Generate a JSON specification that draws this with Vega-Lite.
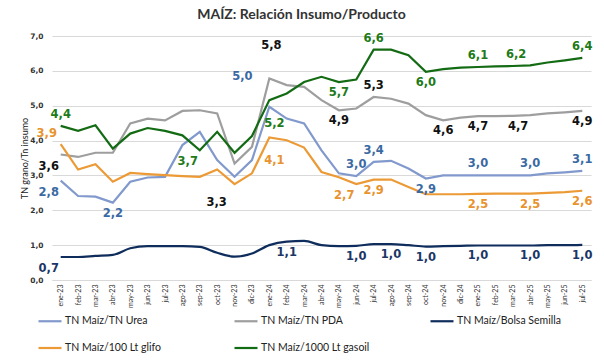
{
  "$schema": "https://vega.github.io/schema/vega-lite/v6.json",
  "width": 539,
  "height": 244,
  "autosize": {"type": "none"},
  "padding": {"left": 52, "top": 36, "right": 13, "bottom": 82},
  "background": "white",
  "title": {"text": "MAÍZ: Relación Insumo/Producto", "font": "Lato", "fontSize": 14, "fontWeight": "bold", "color": "#333333", "anchor": "middle", "offset": 10, "dx": -20},
  "config": {"view": {"stroke": null}},
  "datasets": {
    "series": [
      {"mes": "ene-23", "urea": 2.85, "pda": 3.6, "semilla": 0.66, "glifo": 3.9, "gasoil": 4.42},
      {"mes": "feb-23", "urea": 2.41, "pda": 3.53, "semilla": 0.66, "glifo": 3.17, "gasoil": 4.28},
      {"mes": "mar-23", "urea": 2.39, "pda": 3.65, "semilla": 0.69, "glifo": 3.32, "gasoil": 4.44},
      {"mes": "abr-23", "urea": 2.22, "pda": 3.65, "semilla": 0.72, "glifo": 2.82, "gasoil": 3.77},
      {"mes": "may-23", "urea": 2.82, "pda": 4.49, "semilla": 0.91, "glifo": 3.07, "gasoil": 4.2},
      {"mes": "jun-23", "urea": 2.94, "pda": 4.63, "semilla": 0.97, "glifo": 3.04, "gasoil": 4.36},
      {"mes": "jul-23", "urea": 2.96, "pda": 4.58, "semilla": 0.97, "glifo": 3.01, "gasoil": 4.28},
      {"mes": "ago-23", "urea": 3.87, "pda": 4.85, "semilla": 0.97, "glifo": 2.98, "gasoil": 4.15},
      {"mes": "sep-23", "urea": 4.25, "pda": 4.87, "semilla": 0.95, "glifo": 2.96, "gasoil": 3.72},
      {"mes": "oct-23", "urea": 3.44, "pda": 4.78, "semilla": 0.78, "glifo": 3.17, "gasoil": 4.25},
      {"mes": "nov-23", "urea": 2.96, "pda": 3.34, "semilla": 0.67, "glifo": 2.75, "gasoil": 3.65},
      {"mes": "dic-23", "urea": 3.44, "pda": 3.82, "semilla": 0.76, "glifo": 3.06, "gasoil": 4.13},
      {"mes": "ene-24", "urea": 4.97, "pda": 5.78, "semilla": 1.0, "glifo": 4.09, "gasoil": 5.16},
      {"mes": "feb-24", "urea": 4.63, "pda": 5.59, "semilla": 1.1, "glifo": 4.01, "gasoil": 5.35},
      {"mes": "mar-24", "urea": 4.49, "pda": 5.54, "semilla": 1.12, "glifo": 3.8, "gasoil": 5.68},
      {"mes": "abr-24", "urea": 3.72, "pda": 5.16, "semilla": 1.0, "glifo": 3.1, "gasoil": 5.83},
      {"mes": "may-24", "urea": 3.06, "pda": 4.87, "semilla": 0.97, "glifo": 2.95, "gasoil": 5.68},
      {"mes": "jun-24", "urea": 2.98, "pda": 4.92, "semilla": 0.98, "glifo": 2.75, "gasoil": 5.75},
      {"mes": "jul-24", "urea": 3.39, "pda": 5.25, "semilla": 1.03, "glifo": 2.88, "gasoil": 6.61},
      {"mes": "ago-24", "urea": 3.42, "pda": 5.2, "semilla": 1.03, "glifo": 2.88, "gasoil": 6.61},
      {"mes": "sep-24", "urea": 3.2, "pda": 5.06, "semilla": 1.0, "glifo": 2.67, "gasoil": 6.45},
      {"mes": "oct-24", "urea": 2.91, "pda": 4.73, "semilla": 0.96, "glifo": 2.46, "gasoil": 5.97},
      {"mes": "nov-24", "urea": 3.0, "pda": 4.58, "semilla": 0.97, "glifo": 2.46, "gasoil": 6.05},
      {"mes": "dic-24", "urea": 3.0, "pda": 4.66, "semilla": 0.98, "glifo": 2.46, "gasoil": 6.09},
      {"mes": "ene-25", "urea": 3.0, "pda": 4.7, "semilla": 0.99, "glifo": 2.47, "gasoil": 6.11},
      {"mes": "feb-25", "urea": 3.0, "pda": 4.7, "semilla": 0.99, "glifo": 2.48, "gasoil": 6.13},
      {"mes": "mar-25", "urea": 3.0, "pda": 4.71, "semilla": 0.99, "glifo": 2.48, "gasoil": 6.14},
      {"mes": "abr-25", "urea": 3.0, "pda": 4.73, "semilla": 0.99, "glifo": 2.48, "gasoil": 6.16},
      {"mes": "may-25", "urea": 3.06, "pda": 4.78, "semilla": 1.0, "glifo": 2.5, "gasoil": 6.24},
      {"mes": "jun-25", "urea": 3.09, "pda": 4.81, "semilla": 1.0, "glifo": 2.52, "gasoil": 6.3},
      {"mes": "jul-25", "urea": 3.13, "pda": 4.85, "semilla": 1.01, "glifo": 2.56, "gasoil": 6.37}
    ],
    "labels": [
      {"mes": "ene-23", "serie": "urea", "valor": 2.85, "texto": "2,8", "lugar": "bl"},
      {"mes": "abr-23", "serie": "urea", "valor": 2.22, "texto": "2,2", "lugar": "b"},
      {"mes": "ene-24", "serie": "urea", "valor": 4.97, "texto": "5,0", "lugar": "afl"},
      {"mes": "jun-24", "serie": "urea", "valor": 2.98, "texto": "3,0", "lugar": "a"},
      {"mes": "jul-24", "serie": "urea", "valor": 3.39, "texto": "3,4", "lugar": "a"},
      {"mes": "oct-24", "serie": "urea", "valor": 2.91, "texto": "2,9", "lugar": "b"},
      {"mes": "ene-25", "serie": "urea", "valor": 3.0, "texto": "3,0", "lugar": "a"},
      {"mes": "abr-25", "serie": "urea", "valor": 3.0, "texto": "3,0", "lugar": "a"},
      {"mes": "jul-25", "serie": "urea", "valor": 3.13, "texto": "3,1", "lugar": "a"},
      {"mes": "ene-23", "serie": "pda", "valor": 3.6, "texto": "3,6", "lugar": "bl"},
      {"mes": "nov-23", "serie": "pda", "valor": 3.34, "texto": "3,3", "lugar": "bfl"},
      {"mes": "ene-24", "serie": "pda", "valor": 5.78, "texto": "5,8", "lugar": "af"},
      {"mes": "may-24", "serie": "pda", "valor": 4.87, "texto": "4,9", "lugar": "b"},
      {"mes": "jul-24", "serie": "pda", "valor": 5.25, "texto": "5,3", "lugar": "a"},
      {"mes": "nov-24", "serie": "pda", "valor": 4.58, "texto": "4,6", "lugar": "b"},
      {"mes": "ene-25", "serie": "pda", "valor": 4.7, "texto": "4,7", "lugar": "b"},
      {"mes": "abr-25", "serie": "pda", "valor": 4.73, "texto": "4,7", "lugar": "bl"},
      {"mes": "jul-25", "serie": "pda", "valor": 4.85, "texto": "4,9", "lugar": "b"},
      {"mes": "ene-23", "serie": "semilla", "valor": 0.66, "texto": "0,7", "lugar": "bl"},
      {"mes": "feb-24", "serie": "semilla", "valor": 1.1, "texto": "1,1", "lugar": "b"},
      {"mes": "jun-24", "serie": "semilla", "valor": 0.98, "texto": "1,0", "lugar": "b"},
      {"mes": "ago-24", "serie": "semilla", "valor": 1.03, "texto": "1,0", "lugar": "b"},
      {"mes": "oct-24", "serie": "semilla", "valor": 0.96, "texto": "1,0", "lugar": "b"},
      {"mes": "ene-25", "serie": "semilla", "valor": 0.99, "texto": "1,0", "lugar": "b"},
      {"mes": "abr-25", "serie": "semilla", "valor": 0.99, "texto": "1,0", "lugar": "b"},
      {"mes": "jul-25", "serie": "semilla", "valor": 1.01, "texto": "1,0", "lugar": "b"},
      {"mes": "ene-23", "serie": "glifo", "valor": 3.9, "texto": "3,9", "lugar": "al"},
      {"mes": "ene-24", "serie": "glifo", "valor": 4.09, "texto": "4,1", "lugar": "bf"},
      {"mes": "jun-24", "serie": "glifo", "valor": 2.75, "texto": "2,7", "lugar": "bl"},
      {"mes": "jul-24", "serie": "glifo", "valor": 2.88, "texto": "2,9", "lugar": "b"},
      {"mes": "ene-25", "serie": "glifo", "valor": 2.47, "texto": "2,5", "lugar": "b"},
      {"mes": "abr-25", "serie": "glifo", "valor": 2.48, "texto": "2,5", "lugar": "b"},
      {"mes": "jul-25", "serie": "glifo", "valor": 2.56, "texto": "2,6", "lugar": "b"},
      {"mes": "ene-23", "serie": "gasoil", "valor": 4.42, "texto": "4,4", "lugar": "a"},
      {"mes": "sep-23", "serie": "gasoil", "valor": 3.72, "texto": "3,7", "lugar": "bl"},
      {"mes": "ene-24", "serie": "gasoil", "valor": 5.16, "texto": "5,2", "lugar": "bf"},
      {"mes": "may-24", "serie": "gasoil", "valor": 5.68, "texto": "5,7", "lugar": "b"},
      {"mes": "jul-24", "serie": "gasoil", "valor": 6.61, "texto": "6,6", "lugar": "a"},
      {"mes": "oct-24", "serie": "gasoil", "valor": 5.97, "texto": "6,0", "lugar": "b"},
      {"mes": "ene-25", "serie": "gasoil", "valor": 6.11, "texto": "6,1", "lugar": "a"},
      {"mes": "abr-25", "serie": "gasoil", "valor": 6.16, "texto": "6,2", "lugar": "al"},
      {"mes": "jul-25", "serie": "gasoil", "valor": 6.37, "texto": "6,4", "lugar": "a"}
    ]
  },
  "encoding": {
    "x": {
      "field": "mes", "type": "ordinal",
      "scale": {"type": "point", "padding": 0.5, "domain": ["ene-23","feb-23","mar-23","abr-23","may-23","jun-23","jul-23","ago-23","sep-23","oct-23","nov-23","dic-23","ene-24","feb-24","mar-24","abr-24","may-24","jun-24","jul-24","ago-24","sep-24","oct-24","nov-24","dic-24","ene-25","feb-25","mar-25","abr-25","may-25","jun-25","jul-25"]},
      "axis": {"title": null, "labelAngle": 270, "labelFont": "Lato", "labelFontSize": 7, "labelColor": "#333333", "labelPadding": 4, "ticks": false, "domain": true, "domainColor": "#d9d9d9", "grid": false}
    },
    "y": {
      "field": "valor", "type": "quantitative",
      "scale": {"domain": [0, 7], "nice": false, "zero": true},
      "axis": {"title": "TN grano/Tn insumo", "values": [0, 1, 2, 3, 4, 5, 6, 7], "labelExpr": "replace(format(datum.value, '.1f'), '.', ',')", "grid": true, "gridColor": "#d9d9d9", "domain": false, "ticks": false, "labelPadding": 9, "labelFont": "DejaVu Sans", "labelFontSize": 7.5, "labelFontWeight": "bold", "labelColor": "#333333", "titleFont": "Lato", "titleFontSize": 9, "titleFontWeight": "normal", "titleColor": "#222222", "titleX": -28, "titleY": 122, "titleAngle": 270, "titleAlign": "center", "titleBaseline": "middle"}
    }
  },
  "layer": [
    {
      "data": {"name": "series"},
      "transform": [{"fold": ["urea", "pda", "glifo", "gasoil"], "as": ["serie", "valor"]}],
      "mark": {"type": "line", "interpolate": "linear"},
      "encoding": {
        "color": {
          "field": "serie", "type": "nominal",
          "scale": {"domain": ["urea", "pda", "semilla", "glifo", "gasoil"], "range": ["#8199cc", "#9e9e9e", "#0f2d5c", "#ec9a36", "#136b13"]},
          "legend": {
            "orient": "none", "legendX": -15, "legendY": 272, "columns": 3, "direction": "horizontal", "gridAlign": "all",
            "columnPadding": 56, "rowPadding": 8, "title": null,
            "symbolType": "stroke", "symbolSize": 529, "symbolStrokeWidth": 2.5,
            "labelFont": "Lato", "labelFontSize": 10.5, "labelColor": "#222222", "labelOffset": 2,
            "labelExpr": "{'urea': 'TN Maíz/TN Urea', 'pda': 'TN Maíz/TN PDA', 'semilla': 'TN Maíz/Bolsa Semilla', 'glifo': 'TN Maíz/100 Lt glifo', 'gasoil': 'TN Maíz/1000 Lt gasoil'}[datum.label]"
          }
        },
        "strokeWidth": {
          "field": "serie", "type": "nominal",
          "scale": {"domain": ["urea", "pda", "semilla", "glifo", "gasoil"], "range": [2.2, 2.2, 2.5, 2.5, 3]},
          "legend": null
        }
      }
    },
    {
      "data": {"name": "series"},
      "transform": [{"fold": ["semilla"], "as": ["serie", "valor"]}],
      "mark": {"type": "line", "interpolate": "monotone"},
      "encoding": {
        "color": {"field": "serie", "type": "nominal"},
        "strokeWidth": {"field": "serie", "type": "nominal", "legend": null}
      }
    },
    {"data": {"name": "labels"}, "transform": [{"filter": "datum.lugar == 'a'"}], "mark": {"type": "text", "dx": 0, "dy": -11, "font": "DejaVu Sans", "fontSize": 11.5, "fontWeight": "bold", "baseline": "middle"}, "encoding": {"text": {"field": "texto"}, "fill": {"field": "serie", "type": "nominal", "scale": {"domain": ["urea", "pda", "semilla", "glifo", "gasoil"], "range": ["#3b6aa3", "#111111", "#1c3766", "#e8932e", "#217a17"]}, "legend": null}}},
    {"data": {"name": "labels"}, "transform": [{"filter": "datum.lugar == 'b'"}], "mark": {"type": "text", "dx": 0, "dy": 11, "font": "DejaVu Sans", "fontSize": 11.5, "fontWeight": "bold", "baseline": "middle"}, "encoding": {"text": {"field": "texto"}, "fill": {"field": "serie", "type": "nominal", "scale": {"domain": ["urea", "pda", "semilla", "glifo", "gasoil"], "range": ["#3b6aa3", "#111111", "#1c3766", "#e8932e", "#217a17"]}, "legend": null}}},
    {"data": {"name": "labels"}, "transform": [{"filter": "datum.lugar == 'al'"}], "mark": {"type": "text", "dx": -14, "dy": -10, "font": "DejaVu Sans", "fontSize": 11.5, "fontWeight": "bold", "baseline": "middle"}, "encoding": {"text": {"field": "texto"}, "fill": {"field": "serie", "type": "nominal", "scale": {"domain": ["urea", "pda", "semilla", "glifo", "gasoil"], "range": ["#3b6aa3", "#111111", "#1c3766", "#e8932e", "#217a17"]}, "legend": null}}},
    {"data": {"name": "labels"}, "transform": [{"filter": "datum.lugar == 'bl'"}], "mark": {"type": "text", "dx": -12, "dy": 12, "font": "DejaVu Sans", "fontSize": 11.5, "fontWeight": "bold", "baseline": "middle"}, "encoding": {"text": {"field": "texto"}, "fill": {"field": "serie", "type": "nominal", "scale": {"domain": ["urea", "pda", "semilla", "glifo", "gasoil"], "range": ["#3b6aa3", "#111111", "#1c3766", "#e8932e", "#217a17"]}, "legend": null}}},
    {"data": {"name": "labels"}, "transform": [{"filter": "datum.lugar == 'af'"}], "mark": {"type": "text", "dx": 2, "dy": -33, "font": "DejaVu Sans", "fontSize": 11.5, "fontWeight": "bold", "baseline": "middle"}, "encoding": {"text": {"field": "texto"}, "fill": {"field": "serie", "type": "nominal", "scale": {"domain": ["urea", "pda", "semilla", "glifo", "gasoil"], "range": ["#3b6aa3", "#111111", "#1c3766", "#e8932e", "#217a17"]}, "legend": null}}},
    {"data": {"name": "labels"}, "transform": [{"filter": "datum.lugar == 'bf'"}], "mark": {"type": "text", "dx": 5, "dy": 24, "font": "DejaVu Sans", "fontSize": 11.5, "fontWeight": "bold", "baseline": "middle"}, "encoding": {"text": {"field": "texto"}, "fill": {"field": "serie", "type": "nominal", "scale": {"domain": ["urea", "pda", "semilla", "glifo", "gasoil"], "range": ["#3b6aa3", "#111111", "#1c3766", "#e8932e", "#217a17"]}, "legend": null}}},
    {"data": {"name": "labels"}, "transform": [{"filter": "datum.lugar == 'afl'"}], "mark": {"type": "text", "dx": -27, "dy": -30, "font": "DejaVu Sans", "fontSize": 11.5, "fontWeight": "bold", "baseline": "middle"}, "encoding": {"text": {"field": "texto"}, "fill": {"field": "serie", "type": "nominal", "scale": {"domain": ["urea", "pda", "semilla", "glifo", "gasoil"], "range": ["#3b6aa3", "#111111", "#1c3766", "#e8932e", "#217a17"]}, "legend": null}}},
    {"data": {"name": "labels"}, "transform": [{"filter": "datum.lugar == 'bfl'"}], "mark": {"type": "text", "dx": -18, "dy": 39, "font": "DejaVu Sans", "fontSize": 11.5, "fontWeight": "bold", "baseline": "middle"}, "encoding": {"text": {"field": "texto"}, "fill": {"field": "serie", "type": "nominal", "scale": {"domain": ["urea", "pda", "semilla", "glifo", "gasoil"], "range": ["#3b6aa3", "#111111", "#1c3766", "#e8932e", "#217a17"]}, "legend": null}}}
  ]
}
